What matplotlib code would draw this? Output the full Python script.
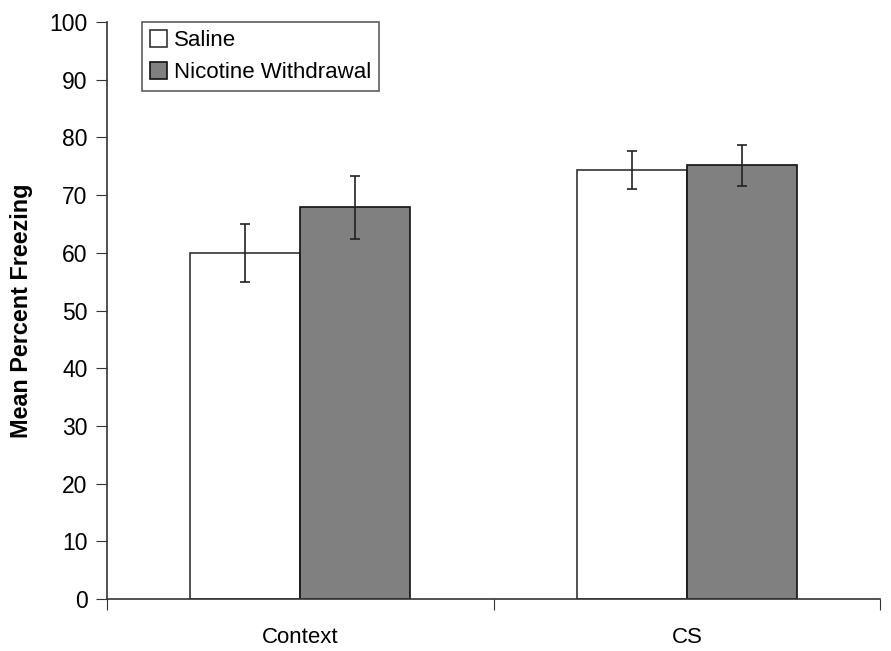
import matplotlib
matplotlib.use('Agg')
import matplotlib.pyplot as plt
import numpy as np

plt.rcParams['font.family'] = ['Liberation Sans', 'DejaVu Sans']

categories = ['Context', 'CS']
saline = [60.0, 74.4]
saline_err = [5.0, 3.3]
nicotine = [67.9, 75.2]
nicotine_err = [5.5, 3.55]

fig = plt.figure(figsize=(8.91, 6.51), dpi=100)
ax = fig.add_axes([0.120, 0.080, 0.868, 0.886])

x = np.arange(len(categories))
w = 0.284
ekw = dict(ecolor='#222222', elinewidth=1.2, capthick=1.2)
ax.bar(x - w/2, saline, w, color='white', edgecolor='#333333', linewidth=1.2,
       yerr=saline_err, capsize=3.5, error_kw=ekw, label='Saline')
ax.bar(x + w/2, nicotine, w, color='#808080', edgecolor='#111111', linewidth=1.2,
       yerr=nicotine_err, capsize=3.5, error_kw=ekw, label='Nicotine Withdrawal')

ax.set_xlim(-0.5, 1.5)
ax.set_ylim(0, 100)
ax.set_yticks(range(0, 101, 10))
ax.set_xticks([-0.5, 0.5, 1.5])
ax.set_xticklabels([])
ax.set_xticks(x, minor=True)
ax.set_xticklabels(categories, minor=True)
ax.tick_params(axis='x', which='major', direction='out', length=8, color='#333333')
ax.tick_params(axis='x', which='minor', length=0, pad=20, labelsize=16)
ax.tick_params(axis='y', direction='out', length=8, labelsize=16.5, color='#333333', pad=6)

for s in ['top', 'right']:
    ax.spines[s].set_visible(False)
for s in ['left', 'bottom']:
    ax.spines[s].set_color('#333333')
    ax.spines[s].set_linewidth(1.2)

ax.set_ylabel('Mean Percent Freezing', fontsize=16.8, fontweight='bold', labelpad=12)

leg = ax.legend(loc='upper left', bbox_to_anchor=(0.045, 1.0), fontsize=16, frameon=True,
                fancybox=False, edgecolor='#333333', handlelength=0.8, handleheight=0.8,
                handletextpad=0.3, borderpad=0.35, labelspacing=0.5, borderaxespad=0.0)
leg.get_frame().set_linewidth(1.2)

fig.savefig('out.png', dpi=100)
